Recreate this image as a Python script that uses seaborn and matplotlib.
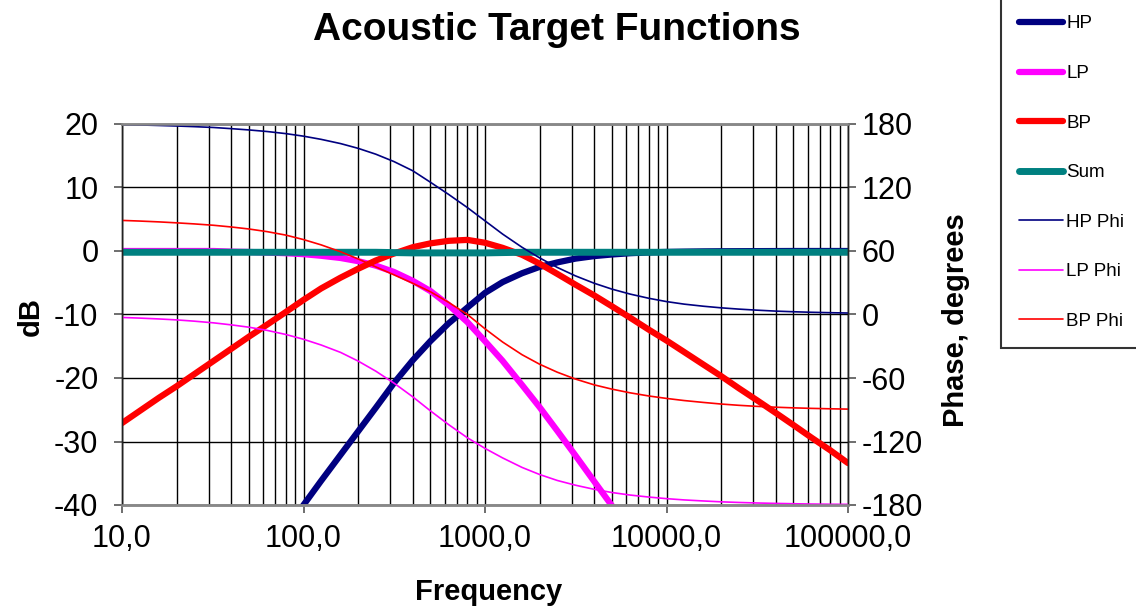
import matplotlib
matplotlib.use("Agg")
import matplotlib.pyplot as plt
import seaborn as sns

# Frequency points (Hz), ten per decade
freq = [10, 12.5, 16, 20, 25, 32, 40, 50, 63, 80,
        100, 125, 160, 200, 250, 315, 400, 500, 630, 800,
        1000, 1250, 1600, 2000, 2500, 3150, 4000, 5000, 6300, 8000,
        10000, 12500, 16000, 20000, 25000, 31500, 40000, 50000, 63000, 80000,
        100000]

# Magnitudes (dB)
hp_db = [-80.0, -76.1, -71.9, -68.0, -64.1, -59.9, -56.0, -52.1, -48.1, -43.9,
         -40.0, -36.2, -32.1, -28.4, -24.7, -20.8, -17.2, -14.2, -11.4, -8.9,
         -6.6, -4.9, -3.5, -2.5, -1.8, -1.2, -0.8, -0.55, -0.35, -0.22,
         -0.15, -0.1, -0.06, -0.04, -0.03, -0.02, -0.01, 0, 0, 0,
         0]
lp_db = [0, 0, 0, 0, 0, 0, -0.1, -0.15, -0.25, -0.35,
         -0.5, -0.75, -1.1, -1.6, -2.3, -3.3, -4.7, -6.3, -8.5, -11.2,
         -14.2, -17.3, -21.1, -24.6, -28.3, -32.2, -36.3, -40.1, -44.1, -48.2,
         -52.1, -55.9, -60.2, -64.1, -68.0, -72.0, -76.1, -80.0, -84.0, -88.2,
         -92.0]
bp_db = [-27.1, -25.2, -23.1, -21.3, -19.4, -17.3, -15.4, -13.5, -11.6, -9.6,
         -7.7, -5.9, -4.2, -2.8, -1.5, -0.4, 0.6, 1.2, 1.6, 1.75,
         1.3, 0.5, -0.6, -2.0, -3.6, -5.3, -7.0, -8.7, -10.5, -12.4,
         -14.1, -15.9, -17.9, -19.7, -21.6, -23.5, -25.5, -27.4, -29.4, -31.4,
         -33.4]
sum_db = [-0.2, -0.2, -0.2, -0.2, -0.2, -0.2, -0.2, -0.2, -0.2, -0.2,
          -0.2, -0.2, -0.2, -0.2, -0.2, -0.25, -0.3, -0.3, -0.3, -0.3,
          -0.3, -0.25, -0.2, -0.2, -0.2, -0.2, -0.2, -0.2, -0.2, -0.2,
          -0.2, -0.2, -0.2, -0.2, -0.2, -0.2, -0.2, -0.2, -0.2, -0.2,
          -0.2]

# Phases (degrees)
hp_phi = [179.4, 179.1, 178.6, 178.1, 177.5, 176.7, 175.6, 174.4, 172.9, 170.9,
          168.5, 165.5, 161.5, 157.0, 151.5, 144.5, 135.8, 125.0, 113.5, 101.0,
          88.5, 76.0, 63.5, 53.5, 44.5, 36.5, 29.5, 24.0, 19.3, 15.3,
          12.2, 9.8, 7.8, 6.3, 5.1, 4.1, 3.2, 2.6, 2.1, 1.7,
          1.4]
lp_phi = [-2.8, -3.4, -4.2, -5.1, -6.3, -7.9, -9.8, -12.0, -15.0, -18.9,
          -23.4, -28.8, -35.8, -44.0, -53.5, -64.8, -77.8, -91.0, -104.0, -116.5,
          -126.5, -135.5, -144.5, -151.2, -156.8, -161.3, -165.2, -168.2, -170.6, -172.5,
          -174.0, -175.2, -176.2, -177.0, -177.6, -178.1, -178.5, -178.8, -179.1, -179.3,
          -179.4]
bp_phi = [88.9, 88.3, 87.5, 86.6, 85.6, 84.3, 82.7, 80.8, 78.3, 75.0,
          70.8, 65.8, 59.3, 52.5, 45.0, 37.5, 29.5, 21.5, 11.5, 0.0,
          -13.5, -26.0, -38.0, -47.0, -54.5, -61.0, -66.5, -70.5, -74.0, -77.0,
          -79.3, -81.3, -83.1, -84.6, -85.8, -86.8, -87.6, -88.2, -88.7, -89.1,
          -89.4]

x_ticks = [10, 100, 1000, 10000, 100000]
x_tick_labels = ["10,0", "100,0", "1000,0", "10000,0", "100000,0"]
db_ticks = [-40, -30, -20, -10, 0, 10, 20]
phi_ticks = [-180, -120, -60, 0, 60, 120, 180]

NAVY, MAGENTA, RED, TEAL = "#000080", "#FF00FF", "#FF0000", "#008080"

sns.set_style("white")
plt.rcParams["font.family"] = ["Liberation Sans", "DejaVu Sans"]
plt.rcParams["text.color"] = "black"
plt.rcParams["xtick.color"] = "black"
plt.rcParams["ytick.color"] = "black"
plt.rcParams["axes.labelcolor"] = "black"

W, H = 1136, 607
fig = plt.figure(figsize=(W / 100, H / 100), dpi=100)
ax = fig.add_axes([122 / W, (H - 505) / H, 726 / W, 381 / H])
ax.set_xscale("log")
ax2 = ax.twinx()

thick = 4.5
thin = 1.2
sns.lineplot(x=freq, y=hp_db, ax=ax, color=NAVY, linewidth=thick, label="HP", estimator=None)
sns.lineplot(x=freq, y=lp_db, ax=ax, color=MAGENTA, linewidth=thick, label="LP", estimator=None)
sns.lineplot(x=freq, y=bp_db, ax=ax, color=RED, linewidth=thick, label="BP", estimator=None)
sns.lineplot(x=freq, y=sum_db, ax=ax, color=TEAL, linewidth=5.0, label="Sum", estimator=None)
sns.lineplot(x=freq, y=hp_phi, ax=ax2, color=NAVY, linewidth=thin, label="HP Phi", estimator=None)
sns.lineplot(x=freq, y=lp_phi, ax=ax2, color=MAGENTA, linewidth=thin, label="LP Phi", estimator=None)
sns.lineplot(x=freq, y=bp_phi, ax=ax2, color=RED, linewidth=thin, label="BP Phi", estimator=None)

h1, l1 = ax.get_legend_handles_labels()
h2, l2 = ax2.get_legend_handles_labels()
for a in (ax, ax2):
    if a.get_legend() is not None:
        a.get_legend().remove()

ax.set_xlim(10, 100000)
ax.set_ylim(-40, 20)
ax2.set_ylim(-180, 180)
ax.set_xticks(x_ticks)
ax.set_xticklabels(x_tick_labels)
ax.set_yticks(db_ticks)
ax.set_yticklabels([str(v) for v in db_ticks])
ax2.set_yticks(phi_ticks)
ax2.set_yticklabels([str(v) for v in phi_ticks])

ax.set_axisbelow(True)
ax.grid(which="both", axis="x", color="black", linewidth=1.0)
ax.grid(which="major", axis="y", color="black", linewidth=1.0)
ax.set_xlabel("")
ax.set_ylabel("")
ax2.set_ylabel("")

ax.tick_params(axis="x", which="major", direction="out", length=6, width=1.2,
               color="#555555", labelcolor="black", labelsize=22, pad=8, bottom=True)
ax.tick_params(axis="x", which="minor", length=0)
ax.tick_params(axis="y", which="major", direction="out", length=6, width=1.2,
               color="#555555", labelcolor="black", labelsize=22, pad=11, left=True)
ax2.tick_params(axis="y", which="major", direction="out", length=6, width=1.2,
                color="#555555", labelcolor="black", labelsize=22, pad=4, right=True)

for a in (ax, ax2):
    for side in ("top", "bottom"):
        a.spines[side].set_color("#888888")
        a.spines[side].set_linewidth(1.8)
    for side in ("left", "right"):
        a.spines[side].set_color("#222222")
        a.spines[side].set_linewidth(1.0)

fig.text(557 / W, (H - 40) / H, "Acoustic Target Functions", fontsize=28,
         fontweight="bold", ha="center", va="baseline", color="black")
fig.text(489 / W, (H - 600) / H, "Frequency", fontsize=21, fontweight="bold",
         ha="center", va="baseline", color="black")
fig.text(31 / W, (H - 316) / H, "dB", fontsize=21, fontweight="bold",
         rotation=90, ha="center", va="center", color="black")
fig.text(956 / W, (H - 320) / H, "Phase, degrees", fontsize=21, fontweight="bold",
         rotation=90, ha="center", va="center", color="black")

# Legend box runs off the top and right edges of the canvas
leg = fig.legend(h1 + h2, l1 + l2, loc="upper left",
                 bbox_to_anchor=(1001 / W, (H + 3) / H, 0.2, 0), mode="expand",
                 fontsize=13.5, labelspacing=1.73, handlelength=2.3, handletextpad=0.2,
                 borderpad=0.98, borderaxespad=0, fancybox=False, framealpha=1,
                 edgecolor="#333333", labelcolor="black")
leg.get_frame().set_linewidth(1.5)

fig.savefig("out.png", dpi=100)
